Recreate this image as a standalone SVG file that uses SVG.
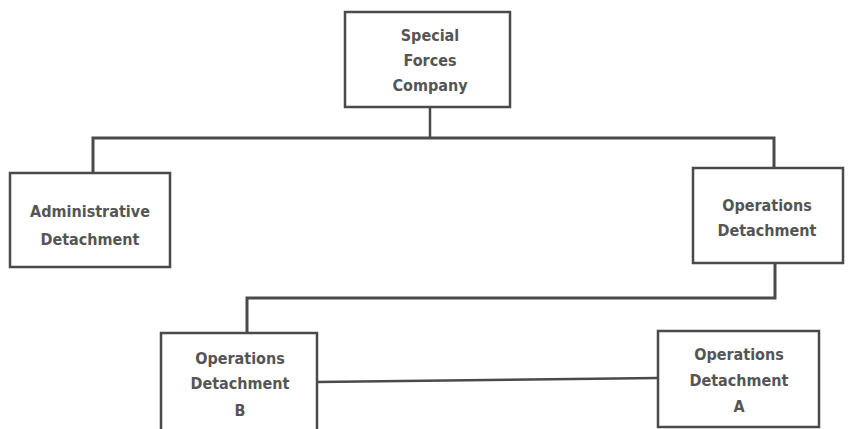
<svg xmlns="http://www.w3.org/2000/svg" width="850" height="429" viewBox="0 0 850 429">
<style>
.box{fill:#fff;stroke:#4a4a4a;stroke-width:2.5}
.ln{fill:none;stroke:#4a4a4a;stroke-width:2.5}
.hl{fill:none;stroke:#4a4a4a;stroke-width:3}
text{font-family:"DejaVu Sans Condensed","Liberation Sans Narrow","Liberation Sans",sans-serif;font-weight:bold;font-size:16px;fill:#555;text-anchor:middle}
</style>
<rect width="850" height="429" fill="#fff"/>
<g id="connectors">
<path class="ln" d="M430,107 V137"/>
<path class="hl" d="M93,173 V138 H774 V168"/>
<path class="hl" d="M775,263 V298 H247 V333"/>
<path class="ln" d="M317,382 L658,378"/>
</g>
<g id="company">
<rect class="box" x="345" y="12" width="165" height="95"/>
<text x="430" y="41">Special</text>
<text x="430" y="66">Forces</text>
<text x="430" y="91">Company</text>
</g>
<g id="admin">
<rect class="box" x="10" y="173" width="160" height="94"/>
<text x="90" y="217">Administrative</text>
<text x="90" y="245">Detachment</text>
</g>
<g id="ops">
<rect class="box" x="693" y="168" width="150" height="95"/>
<text x="767" y="211">Operations</text>
<text x="767" y="236">Detachment</text>
</g>
<g id="opsB">
<rect class="box" x="161" y="333" width="156" height="100"/>
<text x="240" y="364">Operations</text>
<text x="240" y="389">Detachment</text>
<text x="240" y="416">B</text>
</g>
<g id="opsA">
<rect class="box" x="658" y="331" width="161" height="96"/>
<text x="739" y="360">Operations</text>
<text x="739" y="386">Detachment</text>
<text x="739" y="412">A</text>
</g>
</svg>
